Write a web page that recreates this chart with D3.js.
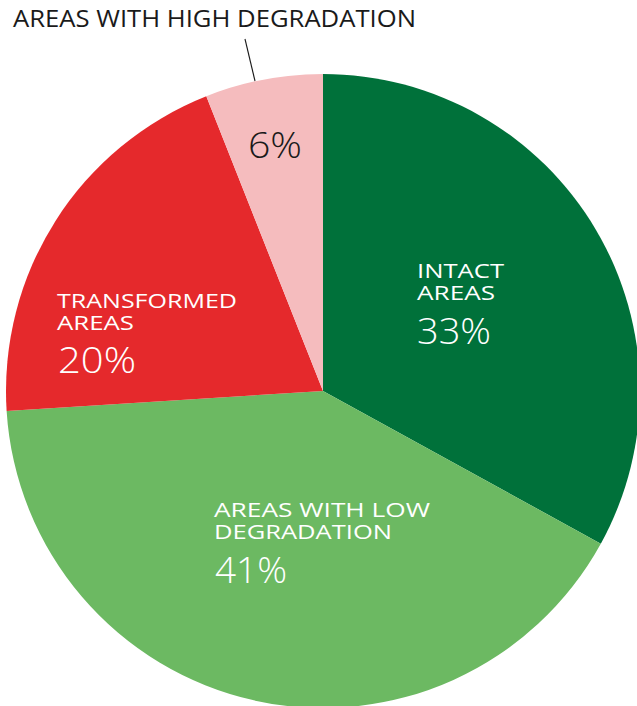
<!DOCTYPE html>
<html><head><meta charset="utf-8">
<script src="https://cdn.jsdelivr.net/npm/d3@7"></script>
<style>
html,body{margin:0;padding:0;background:#fff;}
svg{display:block;}
text{font-family:"Open Sans",Lato,sans-serif;}
</style></head>
<body>
<svg id="chart" width="637" height="706"></svg>
<script>
const categories = ["INTACT AREAS", "AREAS WITH LOW DEGRADATION", "TRANSFORMED AREAS", "AREAS WITH HIGH DEGRADATION"];
const values = [33, 41, 20, 6];
const colors = ["#00713a", "#6cb962", "#e5292c", "#f5bcbe"];
const labelLines = [["INTACT", "AREAS"], ["AREAS WITH LOW", "DEGRADATION"], ["TRANSFORMED", "AREAS"], []];

const svg = d3.select("#chart");
const cx = 323, cy = 391, R = 317;
const g = svg.append("g").attr("transform", `translate(${cx},${cy})`);

const pie = d3.pie().sort(null).value(d => d);
const arcs = pie(values);
const arc = d3.arc().innerRadius(0).outerRadius(R);

g.selectAll("path.slice").data(arcs).join("path")
  .attr("class", "slice")
  .attr("d", arc)
  .attr("fill", (d, i) => colors[i]);

// layout (offsets from centre) and rendered widths, matching the wide display face
const labelPos = [[94, -113.5], [-109, 126.3], [-266, -82.7]];
const labelWidths = [[87, 78], [216, 178], [180, 77]];
const pctPos = [[94, -46.7], [-108, 192.3], [-265, -17.7]];
const pctWidths = [74, 72, 78, 54];

arcs.forEach((a, i) => {
  if (i === 3) return;
  const [lx, ly] = labelPos[i];
  const t = g.append("text").attr("fill", "#fff");
  labelLines[i].forEach((line, j) => {
    t.append("tspan").attr("x", lx).attr("y", ly + j * 22)
      .attr("font-size", 20.5).attr("font-weight", 400)
      .attr("textLength", labelWidths[i][j]).attr("lengthAdjust", "spacingAndGlyphs")
      .text(line);
  });
  const [px, py] = pctPos[i];
  t.append("tspan").attr("x", px).attr("y", py)
    .attr("font-size", 37).attr("font-weight", 300)
    .attr("textLength", pctWidths[i]).attr("lengthAdjust", "spacingAndGlyphs")
    .text(values[i] + "%");
});

// small slice: value inside, name outside with leader line
g.append("text").attr("x", -75).attr("y", -233)
  .attr("fill", "#1a1a1a").attr("font-size", 37).attr("font-weight", 300)
  .attr("textLength", pctWidths[3]).attr("lengthAdjust", "spacingAndGlyphs")
  .text(values[3] + "%");

svg.append("line")
  .attr("x1", 245).attr("y1", 39).attr("x2", 255).attr("y2", 81)
  .attr("stroke", "#1a1a1a").attr("stroke-width", 1.1);

svg.append("text").attr("x", 13).attr("y", 27)
  .attr("fill", "#1a1a1a").attr("font-size", 23).attr("font-weight", 400)
  .attr("textLength", 403).attr("lengthAdjust", "spacingAndGlyphs")
  .text(categories[3]);
</script>
</body></html>
